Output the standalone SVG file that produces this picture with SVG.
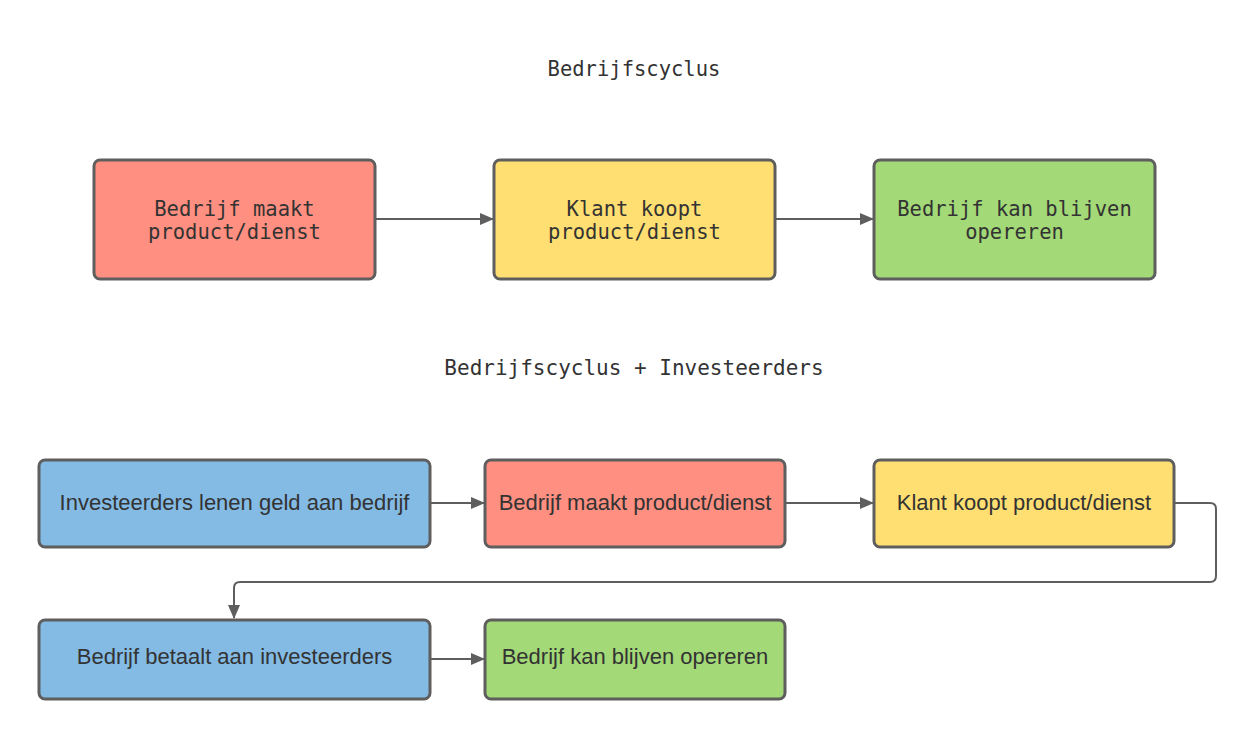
<svg xmlns="http://www.w3.org/2000/svg" width="1257" height="740" viewBox="0 0 1257 740">
<style>
.box{stroke:#5e5e5e;stroke-width:3}
.red{fill:#ff8f80}.yel{fill:#ffdf71}.grn{fill:#a3d977}.blu{fill:#83bbe5}
.mono{font-family:"DejaVu Sans Mono","Liberation Mono",monospace;font-size:20.5px;fill:#333;text-anchor:middle}
.sans{font-family:"Liberation Sans",Arial,sans-serif;font-size:22px;fill:#333;text-anchor:middle}
.conn{fill:none;stroke:#5e5e5e;stroke-width:2}
</style>
<defs>
<marker id="ah" markerWidth="14" markerHeight="12" refX="13" refY="6" orient="auto" markerUnits="userSpaceOnUse">
<path d="M0,0 L14,6 L0,12 Z" fill="#5e5e5e"/>
</marker>
</defs>
<rect width="1257" height="740" fill="#fff"/>
<text class="mono" x="634" y="76">Bedrijfscyclus</text>
<text class="mono" x="634" y="375" style="font-size:21px">Bedrijfscyclus + Investeerders</text>
<g id="connectors">
<path class="conn" d="M375,219 H493" marker-end="url(#ah)"/>
<path class="conn" d="M775,219 H873" marker-end="url(#ah)"/>
<path class="conn" d="M430,503 H484" marker-end="url(#ah)"/>
<path class="conn" d="M785,503 H873" marker-end="url(#ah)"/>
<path class="conn" d="M1174,503 H1210 Q1216,503 1216,509 V576 Q1216,582 1210,582 H240 Q234,582 234,588 V618" marker-end="url(#ah)"/>
<path class="conn" d="M430,659 H484" marker-end="url(#ah)"/>
</g>
<g id="n1"><rect class="box red" x="94" y="160" width="281" height="119" rx="6"/>
<text class="mono" x="234.5" y="216">Bedrijf maakt</text><text class="mono" x="234.5" y="239">product/dienst</text></g>
<g id="n2"><rect class="box yel" x="494" y="160" width="281" height="119" rx="6"/>
<text class="mono" x="634.5" y="216">Klant koopt</text><text class="mono" x="634.5" y="239">product/dienst</text></g>
<g id="n3"><rect class="box grn" x="874" y="160" width="281" height="119" rx="6"/>
<text class="mono" x="1014.5" y="216">Bedrijf kan blijven</text><text class="mono" x="1014.5" y="239">opereren</text></g>
<g id="n4"><rect class="box blu" x="39" y="460" width="391" height="87" rx="6"/>
<text class="sans" x="234.5" y="510">Investeerders lenen geld aan bedrijf</text></g>
<g id="n5"><rect class="box red" x="485" y="460" width="300" height="87" rx="6"/>
<text class="sans" x="635" y="510">Bedrijf maakt product/dienst</text></g>
<g id="n6"><rect class="box yel" x="874" y="460" width="300" height="87" rx="6"/>
<text class="sans" x="1024" y="510">Klant koopt product/dienst</text></g>
<g id="n7"><rect class="box blu" x="39" y="620" width="391" height="79" rx="6"/>
<text class="sans" x="234.5" y="664">Bedrijf betaalt aan investeerders</text></g>
<g id="n8"><rect class="box grn" x="485" y="620" width="300" height="79" rx="6"/>
<text class="sans" x="635" y="664">Bedrijf kan blijven opereren</text></g>
</svg>
